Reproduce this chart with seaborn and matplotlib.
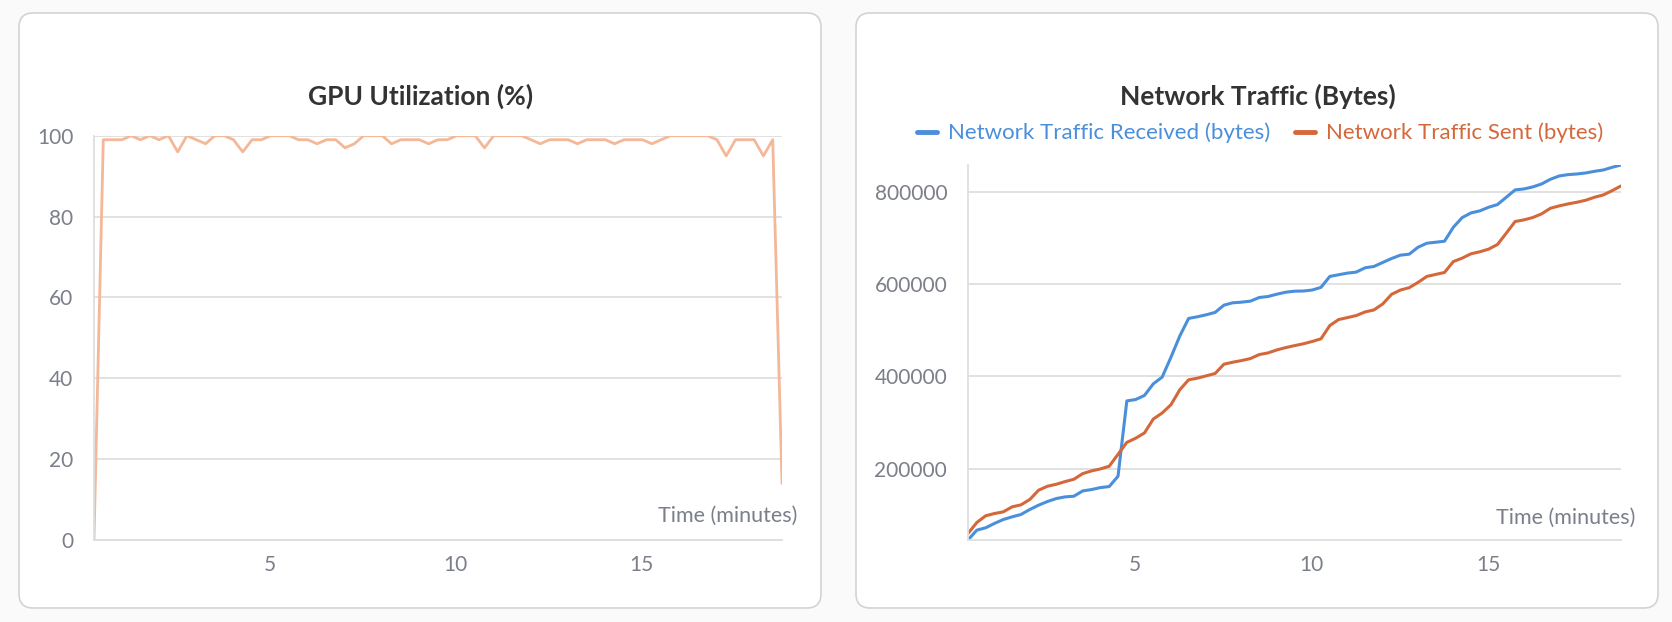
import numpy as np
import pandas as pd
import matplotlib
matplotlib.use("Agg")
import matplotlib.pyplot as plt
from matplotlib.patches import FancyBboxPatch
import seaborn as sns

# sample times (minutes)
minutes = [0.27, 0.52, 0.77, 1.02, 1.27, 1.52, 1.77, 2.02, 2.27, 2.52,
           2.77, 3.02, 3.27, 3.52, 3.77, 4.02, 4.27, 4.52, 4.77, 5.02,
           5.27, 5.52, 5.77, 6.02, 6.27, 6.52, 6.77, 7.02, 7.27, 7.52,
           7.77, 8.02, 8.27, 8.52, 8.77, 9.02, 9.27, 9.52, 9.77, 10.02,
           10.27, 10.52, 10.77, 11.02, 11.27, 11.52, 11.77, 12.02, 12.27, 12.52,
           12.77, 13.02, 13.27, 13.52, 13.77, 14.02, 14.27, 14.52, 14.77, 15.02,
           15.27, 15.52, 15.77, 16.02, 16.27, 16.52, 16.77, 17.02, 17.27, 17.52,
           17.77, 18.02, 18.27, 18.52, 18.77]

gpu_util = [0, 99, 99, 99, 100, 99, 100, 99, 100, 96,
            100, 99, 98, 100, 100, 99, 96, 99, 99, 100,
            100, 100, 99, 99, 98, 99, 99, 97, 98, 100,
            100, 100, 98, 99, 99, 99, 98, 99, 99, 100,
            100, 100, 97, 100, 100, 100, 100, 99, 98, 99,
            99, 99, 98, 99, 99, 99, 98, 99, 99, 99,
            98, 99, 100, 100, 100, 100, 100, 99, 95, 99,
            99, 99, 95, 99, 14]

net_recv = [45000, 66400, 71500, 81000, 89500, 95300, 100400, 111200, 120600, 128500,
            135000, 138600, 140100, 151600, 154500, 158800, 161000, 183400, 347000, 350000,
            358900, 384100, 398600, 441800, 487900, 526100, 529700, 534000, 539100, 554900,
            560000, 561400, 563600, 571500, 573700, 578700, 583000, 585200, 585600, 587700,
            593500, 617300, 620900, 624500, 626700, 636000, 638900, 647600, 656200, 663400,
            665600, 680700, 689400, 691500, 693700, 724000, 745000, 755200, 759600, 767500,
            773300, 789200, 805100, 807200, 811600, 818000, 828200, 835400, 838300, 839700,
            841900, 845500, 848400, 854200, 859200]

net_sent = [59200, 83000, 97500, 102500, 106100, 117000, 121300, 132900, 153100, 161700,
            166000, 171800, 176900, 189200, 195000, 199300, 205100, 231000, 257000, 266000,
            277500, 307700, 320700, 338700, 371200, 392800, 396400, 401400, 406500, 426700,
            431000, 434600, 438900, 447600, 451200, 457700, 462700, 467000, 471000, 476000,
            481800, 510600, 523600, 527900, 532300, 540200, 544500, 557500, 578400, 587700,
            592800, 604300, 617300, 621600, 625900, 649500, 657000, 666400, 670800, 676500,
            686600, 711200, 736500, 740100, 745100, 753100, 765300, 770400, 774700, 778300,
            782700, 789200, 794200, 803600, 813700]

recv_label = 'Network Traffic Received (bytes)'
sent_label = 'Network Traffic Sent (bytes)'

gpu_df = pd.DataFrame({'minutes': minutes, 'gpu': gpu_util})
net_df = pd.concat([
    pd.DataFrame({'minutes': minutes, 'bytes': net_recv, 'series': recv_label}),
    pd.DataFrame({'minutes': minutes, 'bytes': net_sent, 'series': sent_label}),
])

sns.set_theme(style='white')
plt.rcParams['font.family'] = ['Lato', 'DejaVu Sans']

W, H = 1672, 622
fig = plt.figure(figsize=(W / 100, H / 100), dpi=100, facecolor='#fafafa')

# panel cards
for x0 in [19, 856]:
    card = FancyBboxPatch((x0 / W, 14 / H), 802 / W, 595 / H,
                          boxstyle='round,pad=0,rounding_size=0.0085',
                          mutation_aspect=W / H, transform=fig.transFigure,
                          facecolor='white', edgecolor='#d3d3d7', linewidth=1.2, zorder=-5)
    fig.patches.append(card)

grid_c = '#dedede'
tick_c = '#7b7f8a'

ax1 = fig.add_axes([94 / W, 1 - 540 / H, (782 - 94) / W, (540 - 135.7) / H])
ax2 = fig.add_axes([968 / W, 1 - 540 / H, (1621 - 968) / W, (540 - 165) / H])

sns.lineplot(data=gpu_df, x='minutes', y='gpu', ax=ax1, color='#f4b797', linewidth=2.0)
sns.lineplot(data=net_df, x='minutes', y='bytes', hue='series', ax=ax2,
             palette={recv_label: '#4a8fdb', sent_label: '#d4683a'}, linewidth=2.2, legend=False)

ax1.set_ylim(0, 100)
ax1.set_yticks([0, 20, 40, 60, 80, 100])
ax2.set_ylim(min(net_recv + net_sent), max(net_recv + net_sent))
ax2.set_yticks([200000, 400000, 600000, 800000])
ax2.set_yticklabels(['200000', '400000', '600000', '800000'])

for ax in [ax1, ax2]:
    ax.set_facecolor('none')
    ax.set_xlim(minutes[0], minutes[-1])
    ax.set_xticks([5, 10, 15])
    ax.set_xlabel('')
    ax.set_ylabel('')
    ax.grid(axis='y', color=grid_c, linewidth=1.3)
    ax.set_axisbelow(True)
    for side in ['top', 'right']:
        ax.spines[side].set_visible(False)
    for side in ['left', 'bottom']:
        ax.spines[side].set_color(grid_c)
        ax.spines[side].set_linewidth(1.3)
    ax.tick_params(axis='both', colors=grid_c, labelcolor=tick_c, labelsize=15,
                   length=7, width=1.3, direction='out')
    ax.tick_params(axis='y', pad=8)
    ax.tick_params(axis='x', pad=4)
    ax.text(1.022, 0.06, 'Time (minutes)', transform=ax.transAxes, ha='right', va='center',
            fontsize=15.5, color=tick_c)

fig.text(421 / W, 1 - 96 / H, 'GPU Utilization (%)', ha='center', va='center',
         fontsize=19, fontweight='bold', color='#333333')
fig.text(1258 / W, 1 - 96 / H, 'Network Traffic (Bytes)', ha='center', va='center',
         fontsize=19, fontweight='bold', color='#333333')

handles = ax2.get_lines()[:2]
leg = fig.legend(handles, [recv_label, sent_label], loc='center', ncol=2,
                 bbox_to_anchor=(1260 / W, 1 - 133 / H), frameon=False, fontsize=16,
                 handlelength=0.9, handletextpad=0.5, columnspacing=1.1, labelcolor='linecolor')
for ln in leg.get_lines():
    ln.set_linewidth(3.5)

fig.savefig('out.png', dpi=100, facecolor=fig.get_facecolor())
